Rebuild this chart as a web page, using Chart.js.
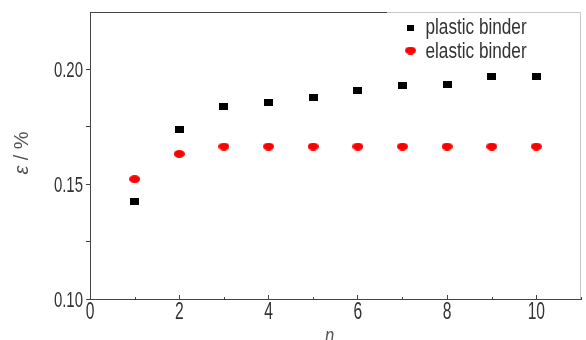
<!DOCTYPE html>
<html lang="en">
  <head>
    <meta charset="UTF-8" />
    <title>binder strain</title>
    <style>
      body { margin: 0; background: #fff; }
      #chart { display: block; }
    </style>
  </head>
  <body>
    <canvas id="chart" width="586" height="340"></canvas>
    <script src="https://cdn.jsdelivr.net/npm/chart.js@4/dist/chart.umd.min.js"></script>
    <script>
// data
var cycles = [1, 2, 3, 4, 5, 6, 7, 8, 9, 10];
var plasticBinder = [0.1425, 0.1737, 0.1838, 0.1855, 0.1879, 0.1907, 0.1928, 0.1936, 0.1969, 0.1969];
var elasticBinder = [0.1522, 0.1632, 0.1664, 0.1664, 0.1664, 0.1664, 0.1664, 0.1664, 0.1664, 0.1664];
var yTickLabels = [0.10, 0.15, 0.20];
var xTickLabels = [0, 2, 4, 6, 8, 10];
var seriesNames = ['plastic binder', 'elastic binder'];
var xTitle = 'n';
var yTitle = ['ε', ' / %'];

var FONT = "'Liberation Sans', Arial, sans-serif";
var TEXT = '#333';
var AXIS = '#444';

function rectMark(w, h, color) {
  var c = document.createElement('canvas');
  c.width = w; c.height = h;
  var g = c.getContext('2d');
  g.fillStyle = color;
  g.fillRect(0, 0, w, h);
  return c;
}
function ellipseMark(w, h, color) {
  var c = document.createElement('canvas');
  c.width = w; c.height = h;
  var g = c.getContext('2d');
  g.fillStyle = color;
  g.beginPath();
  g.ellipse(w / 2, h / 2, w / 2, h / 2, 0, 0, Math.PI * 2);
  g.fill();
  return c;
}
var squareMark = rectMark(9, 7, '#000');
var dotMark = ellipseMark(11, 8, '#ff0000');

function toPoints(ys) {
  return cycles.map(function (x, i) { return { x: x, y: ys[i] }; });
}

function isLabelled(list, v) {
  return list.some(function (t) { return Math.abs(t - v) < 1e-6; });
}

// the original lettering is a squeezed sans, so text is drawn narrowed
function squeezed(ctx, text, x, y, align, sx) {
  ctx.save();
  ctx.translate(x, y);
  ctx.scale(sx, 1);
  ctx.textAlign = align;
  ctx.fillText(text, 0, 0);
  ctx.restore();
}

var textPlugin = {
  id: 'lettering',
  afterDraw: function (chart) {
    var ctx = chart.ctx, a = chart.chartArea;
    var xs = chart.scales.x, ys = chart.scales.y;
    var legendLeft = 387;
    ctx.save();

    // top and right frame, lighter under the legend
    ctx.lineWidth = 1;
    ctx.strokeStyle = AXIS;
    ctx.beginPath();
    ctx.moveTo(a.left, a.top + 0.5);
    ctx.lineTo(legendLeft, a.top + 0.5);
    ctx.stroke();
    ctx.strokeStyle = '#c8c8c8';
    ctx.beginPath();
    ctx.moveTo(legendLeft, a.top + 0.5);
    ctx.lineTo(a.right - 0.5, a.top + 0.5);
    ctx.lineTo(a.right - 0.5, a.bottom);
    ctx.stroke();

    // short minor ticks on odd n
    ctx.strokeStyle = AXIS;
    ctx.beginPath();
    xs.ticks.forEach(function (t) {
      if (isLabelled(xTickLabels, t.value)) return;
      var px = Math.round(xs.getPixelForValue(t.value)) + 0.5;
      ctx.moveTo(px, a.bottom);
      ctx.lineTo(px, a.bottom - 2);
    });
    ctx.stroke();

    // tick labels
    ctx.fillStyle = TEXT;
    ctx.textBaseline = 'alphabetic';
    ctx.font = '22px ' + FONT;
    ys.ticks.forEach(function (t) {
      if (!isLabelled(yTickLabels, t.value)) return;
      squeezed(ctx, t.value.toFixed(2), a.left - 7, ys.getPixelForValue(t.value) + 8, 'right', 0.68);
    });
    ctx.font = '23px ' + FONT;
    xs.ticks.forEach(function (t) {
      if (!isLabelled(xTickLabels, t.value)) return;
      squeezed(ctx, String(t.value), xs.getPixelForValue(t.value), a.bottom + 20, 'center', 0.68);
    });

    // axis titles
    ctx.fillStyle = '#555';
    ctx.font = 'italic 22px ' + FONT;
    squeezed(ctx, xTitle, (a.left + a.right) / 2 - 6, a.bottom + 44, 'center', 0.75);

    ctx.save();
    ctx.translate(27.5, 153);
    ctx.rotate(-Math.PI / 2);
    ctx.font = 'italic 20px ' + FONT;
    var w0 = ctx.measureText(yTitle[0]).width;
    ctx.font = '20px ' + FONT;
    var w1 = ctx.measureText(yTitle[1]).width;
    var start = -(w0 + w1) / 2;
    ctx.textAlign = 'left';
    ctx.font = 'italic 20px ' + FONT;
    ctx.fillText(yTitle[0], start, 0);
    ctx.font = '20px ' + FONT;
    ctx.fillText(yTitle[1], start + w0, 0);
    ctx.restore();

    // legend
    ctx.font = '22px ' + FONT;
    seriesNames.forEach(function (name, i) {
      var base = 34 + i * 23.5;
      if (i === 0) {
        ctx.fillStyle = '#000';
        ctx.fillRect(407, base - 9, 7, 6);
      } else {
        ctx.drawImage(dotMark, 405, base - 11);
      }
      ctx.fillStyle = TEXT;
      squeezed(ctx, name, 425.5, base, 'left', 0.78);
    });
    ctx.restore();
  }
};

var chart = new Chart(document.getElementById('chart'), {
  type: 'scatter',
  data: {
    datasets: [
      {
        label: seriesNames[0],
        data: toPoints(plasticBinder),
        pointStyle: squareMark,
        showLine: false
      },
      {
        label: seriesNames[1],
        data: toPoints(elasticBinder),
        pointStyle: dotMark,
        showLine: false
      }
    ]
  },
  options: {
    responsive: false,
    animation: false,
    layout: { padding: { top: 12, right: 2, left: 0, bottom: 0 } },
    plugins: {
      legend: { display: false },
      tooltip: { enabled: false }
    },
    scales: {
      x: {
        type: 'linear',
        min: 0,
        max: 11,
        afterFit: function (s) { s.height = 41; },
        border: { color: AXIS, width: 1 },
        grid: {
          drawOnChartArea: false,
          tickLength: -4,
          tickColor: function (c) {
            return isLabelled(xTickLabels, c.tick.value) ? AXIS : 'rgba(0,0,0,0)';
          }
        },
        ticks: { stepSize: 1, display: false, autoSkip: false }
      },
      y: {
        min: 0.10,
        max: 0.225,
        afterFit: function (s) { s.width = 90; },
        border: { color: AXIS, width: 1 },
        grid: {
          drawOnChartArea: false,
          tickLength: 4,
          tickColor: function (c) {
            return c.tick.value > 0.22 ? 'rgba(0,0,0,0)' : AXIS;
          }
        },
        ticks: { stepSize: 0.025, display: false, autoSkip: false }
      }
    }
  },
  plugins: [textPlugin]
});
    </script>
  </body>
</html>
